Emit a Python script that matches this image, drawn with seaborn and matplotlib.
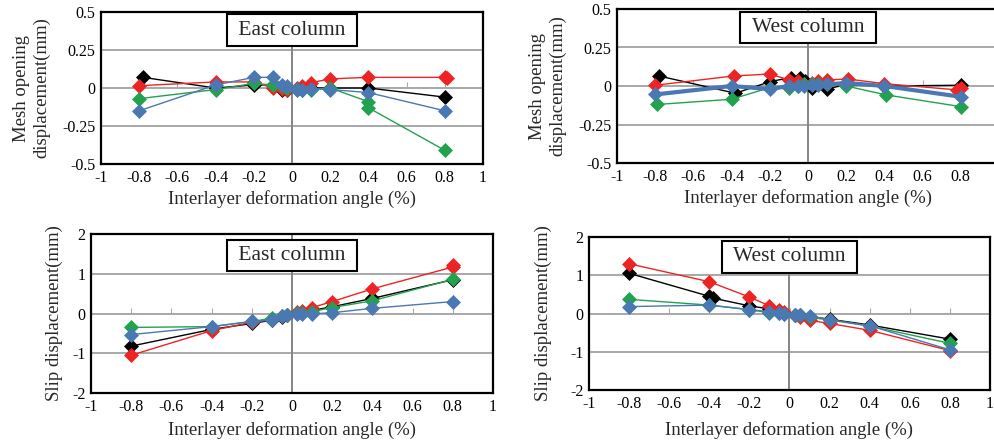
import numpy as np
import pandas as pd
import matplotlib
matplotlib.use("Agg")
import matplotlib.pyplot as plt
import matplotlib.transforms as mtransforms
import seaborn as sns

sns.set_style("white")
plt.rcParams['font.family'] = ['Liberation Serif', 'DejaVu Serif']
plt.rcParams['axes.unicode_minus'] = False

# ---------------- data ----------------
# East column, mesh opening displacement
em_black_x = [-0.78, -0.4, -0.2, -0.1, -0.05, -0.025, 0.025, 0.05, 0.1, 0.2, 0.4, 0.8]
em_black_y = [0.07, 0.0, 0.02, 0.02, -0.01, -0.015, -0.005, -0.005, 0.0, 0.0, 0.0, -0.06]
em_red_x = [-0.8, -0.4, -0.2, -0.1, -0.05, -0.025, 0.025, 0.05, 0.1, 0.2, 0.4, 0.8, 0.81]
em_red_y = [0.015, 0.04, 0.04, 0.0, -0.005, -0.01, 0.0, 0.01, 0.035, 0.06, 0.07, 0.07, 0.065]
em_green_x = [-0.8, -0.4, -0.2, -0.1, -0.05, -0.025, 0.025, 0.05, 0.1, 0.2, 0.4, 0.4, 0.8]
em_green_y = [-0.07, -0.01, 0.03, 0.02, 0.01, 0.0, -0.005, -0.01, -0.01, 0.0, -0.09, -0.13, -0.41]
em_blue_x = [-0.8, -0.4, -0.2, -0.1, -0.05, -0.025, 0.025, 0.05, 0.1, 0.2, 0.4, 0.8]
em_blue_y = [-0.15, 0.02, 0.07, 0.07, 0.02, 0.01, -0.01, -0.01, -0.005, -0.01, -0.03, -0.15]

# West column, mesh opening displacement
wm_black_x = [-0.78, -0.38, -0.2, -0.09, -0.04, -0.015, 0.02, 0.05, 0.1, 0.2, 0.4, 0.8]
wm_black_y = [0.065, -0.047, 0.028, 0.055, 0.05, 0.03, -0.01, 0.01, -0.02, 0.01, 0.0, 0.005]
wm_red_x = [-0.8, -0.39, -0.2, -0.1, -0.05, -0.02, 0.02, 0.05, 0.1, 0.21, 0.4, 0.78, 0.8]
wm_red_y = [0.005, 0.065, 0.078, 0.04, 0.03, 0.01, 0.02, 0.035, 0.04, 0.045, 0.015, -0.025, -0.015]
wm_green_x = [-0.79, -0.4, -0.2, -0.1, -0.05, -0.02, 0.02, 0.05, 0.1, 0.2, 0.41, 0.8]
wm_green_y = [-0.12, -0.086, -0.01, -0.01, 0.0, 0.01, 0.01, 0.01, 0.01, 0.0, -0.058, -0.134]
wm_blue_x = [-0.8, -0.4, -0.2, -0.1, -0.05, -0.02, 0.02, 0.05, 0.1, 0.2, 0.4, 0.8]
wm_blue_y = [-0.055, 0.0, -0.02, 0.0, 0.0, 0.0, 0.005, 0.005, 0.01, 0.02, 0.0, -0.07]

# East column, slip displacement
es_x = [-0.8, -0.4, -0.2, -0.1, -0.05, -0.025, 0.025, 0.05, 0.1, 0.2, 0.4, 0.8]
es_red_x = [-0.8, -0.4, -0.2, -0.1, -0.05, -0.025, 0.025, 0.05, 0.1, 0.2, 0.4, 0.8, 0.8]
es_black_y = [-0.82, -0.4, -0.25, -0.17, -0.08, -0.04, 0.02, 0.04, 0.08, 0.17, 0.38, 0.85]
es_red_y = [-1.05, -0.43, -0.22, -0.15, -0.06, -0.03, 0.03, 0.07, 0.15, 0.3, 0.62, 1.17, 1.23]
es_green_y = [-0.35, -0.33, -0.2, -0.12, -0.06, -0.03, 0.01, 0.02, 0.05, 0.15, 0.32, 0.86]
es_blue_y = [-0.53, -0.33, -0.2, -0.17, -0.07, -0.03, -0.01, 0.0, -0.01, 0.02, 0.13, 0.3]

# West column, slip displacement
ws_x = [-0.8, -0.4, -0.2, -0.1, -0.05, -0.025, 0.025, 0.05, 0.1, 0.2, 0.4, 0.8]
ws_black_x = [-0.8, -0.4, -0.38, -0.2, -0.1, -0.05, -0.025, 0.025, 0.05, 0.1, 0.2, 0.4, 0.8]
ws_black_y = [1.05, 0.45, 0.4, 0.2, 0.12, 0.06, 0.02, -0.03, -0.05, -0.08, -0.15, -0.3, -0.67]
ws_red_y = [1.3, 0.83, 0.43, 0.2, 0.1, 0.03, -0.05, -0.1, -0.18, -0.26, -0.44, -0.97]
ws_green_y = [0.37, 0.22, 0.1, 0.02, 0.01, 0.0, -0.03, -0.05, -0.1, -0.17, -0.33, -0.78]
ws_blue_y = [0.18, 0.22, 0.1, 0.05, 0.02, 0.0, -0.03, -0.04, -0.06, -0.16, -0.32, -0.95]

xticks = [-1, -0.8, -0.6, -0.4, -0.2, 0, 0.2, 0.4, 0.6, 0.8, 1]
xtick_labels = ["-1", "-0.8", "-0.6", "-0.4", "-0.2", "0", "0.2", "0.4", "0.6", "0.8", "1"]
# top-right panel: the "1" label falls outside the visible picture
xtick_labels_cut = ["-1", "-0.8", "-0.6", "-0.4", "-0.2", "0", "0.2", "0.4", "0.6", "0.8", ""]
mesh_yticks = [-0.5, -0.25, 0, 0.25, 0.5]
mesh_ylabels = ["-0.5", "-0.25", "0", "0.25", "0.5"]
slip_yticks = [-2, -1, 0, 1, 2]
slip_ylabels = ["-2", "-1", "0", "1", "2"]

BLACK = "#000000"
RED = "#EE2424"
GREEN = "#22A24E"
BLUE = "#4A78B2"

XLABEL = "Interlayer deformation angle (%)"

fig = plt.figure(figsize=(9.95, 4.4), dpi=100)
W, H = 995, 440


def make_ax(left, top, right, bottom):
    return fig.add_axes([left / W, 1 - bottom / H, (right - left) / W, (bottom - top) / H])


def draw_series(ax, x, y, color, lw=1.0):
    df = pd.DataFrame({"x": x, "y": y})
    sns.lineplot(data=df, x="x", y="y", ax=ax, sort=False, estimator=None,
                 color=color, lw=lw, marker="D", markersize=7.5,
                 markeredgecolor=color, markeredgewidth=0.5, zorder=3)


def style_ax(ax, yticks, ylabels, title, ylabel, ylab_x, xlab_y, title_y, xlabels=xtick_labels):
    ax.set_xlim(-1, 1)
    ax.set_ylim(yticks[0], yticks[-1])
    ax.set_xticks(xticks)
    ax.set_xticklabels(xlabels)
    ax.set_yticks(yticks)
    ax.set_yticklabels(ylabels)
    ax.tick_params(axis="both", length=0, pad=4, labelsize=11.5, colors="black")
    ax.grid(axis="y", color="#a8a8a8", lw=1.4, zorder=0)
    ax.grid(axis="x", visible=False)
    ax.axvline(0, color="#858585", lw=1.4, zorder=1)
    sec = ax.secondary_xaxis(0.5)
    sec.set_xticks(xticks)
    sec.tick_params(axis="x", direction="in", length=4, color="#a8a8a8",
                    labeltop=False, labelbottom=False, top=False, bottom=True)
    sec.spines["bottom"].set_visible(False)
    sec.spines["top"].set_visible(False)
    for s in ax.spines.values():
        s.set_color("black")
        s.set_linewidth(1.6)
    ax.set_xlabel(XLABEL, fontsize=13.5, va="center")
    ax.set_ylabel(ylabel, fontsize=13.5, va="center", linespacing=1.2)
    ax.xaxis.set_label_coords(0.5, xlab_y)
    ax.yaxis.set_label_coords(ylab_x, 0.5)
    ax.text(0.0, title_y, " " + title + " ",
            transform=mtransforms.blended_transform_factory(ax.transData, ax.transAxes),
            ha="center", va="center", fontsize=15.5, zorder=5,
            bbox=dict(boxstyle="square,pad=0.3", fc="white", ec="black", lw=1.5))


# top-left: East mesh
ax1 = make_ax(101, 12, 483, 164)
draw_series(ax1, em_black_x, em_black_y, BLACK)
draw_series(ax1, em_red_x, em_red_y, RED)
draw_series(ax1, em_green_x, em_green_y, GREEN)
draw_series(ax1, em_blue_x, em_blue_y, BLUE)
style_ax(ax1, mesh_yticks, mesh_ylabels, "East column", "Mesh opening\ndisplacement(mm)",
         -0.182, -0.23, 0.88)

# top-right: West mesh
ax2 = make_ax(617, 9, 999, 163)
draw_series(ax2, wm_black_x, wm_black_y, BLACK)
draw_series(ax2, wm_red_x, wm_red_y, RED)
draw_series(ax2, wm_green_x, wm_green_y, GREEN)
draw_series(ax2, wm_blue_x, wm_blue_y, BLUE, lw=3.0)
style_ax(ax2, mesh_yticks, mesh_ylabels, "West column", "Mesh opening\ndisplacement(mm)",
         -0.182, -0.227, 0.88, xlabels=xtick_labels_cut)

# bottom-left: East slip
ax3 = make_ax(91, 234, 493, 393)
draw_series(ax3, es_x, es_black_y, BLACK)
draw_series(ax3, es_red_x, es_red_y, RED)
draw_series(ax3, es_x, es_green_y, GREEN)
draw_series(ax3, es_x, es_blue_y, BLUE)
style_ax(ax3, slip_yticks, slip_ylabels, "East column", "Slip displacement(mm)",
         -0.092, -0.235, 0.865)

# bottom-right: West slip
ax4 = make_ax(589, 237, 990, 390)
draw_series(ax4, ws_black_x, ws_black_y, BLACK)
draw_series(ax4, ws_x, ws_red_y, RED)
draw_series(ax4, ws_x, ws_green_y, GREEN)
draw_series(ax4, ws_x, ws_blue_y, BLUE)
style_ax(ax4, slip_yticks, slip_ylabels, "West column", "Slip displacement(mm)",
         -0.114, -0.26, 0.87)

fig.savefig("out.png", dpi=100)
